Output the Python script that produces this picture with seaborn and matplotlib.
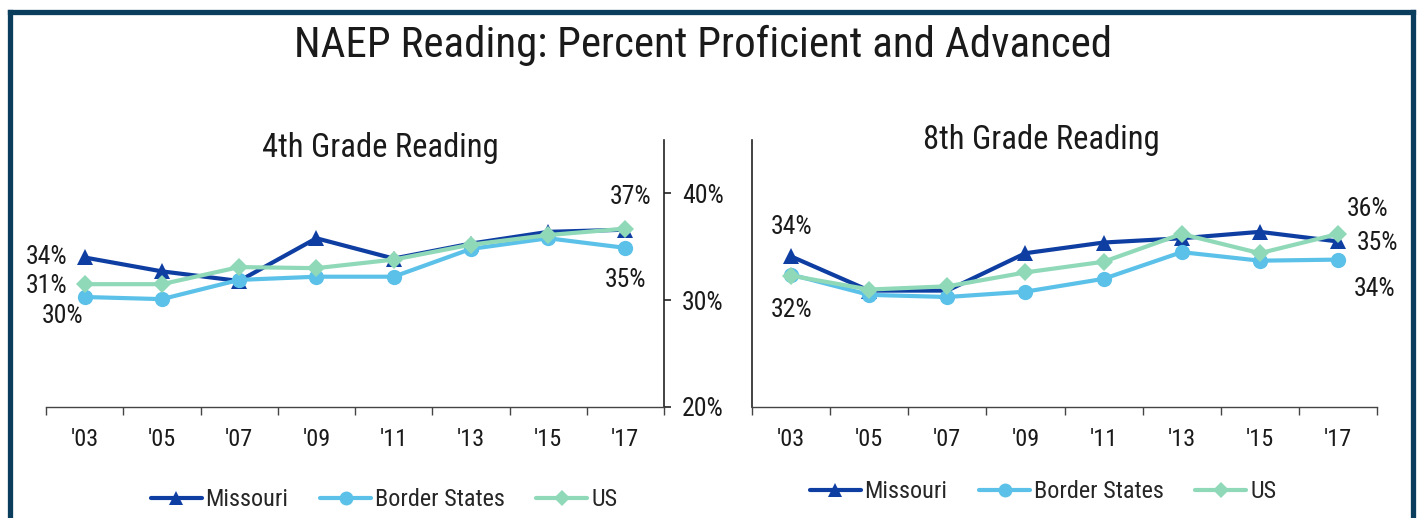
import numpy as np
import pandas as pd
import matplotlib
matplotlib.use("Agg")
import matplotlib.pyplot as plt
import seaborn as sns
from matplotlib import font_manager
from matplotlib.lines import Line2D
from matplotlib.ticker import FixedLocator

sns.set_theme(style="white")
installed = {f.name for f in font_manager.fontManager.ttflist}
narrow = [n for n in ["Roboto Condensed", "Archivo Narrow", "PT Sans Narrow"] if n in installed]
plt.rcParams["font.family"] = narrow[:1] + ["DejaVu Sans"]

# -------------------------------
# data
# -------------------------------
years = ["'03", "'05", "'07", "'09", "'11", "'13", "'15", "'17"]
series = ["Missouri", "Border States", "US"]

g4_missouri = [34.0, 32.7, 31.8, 35.8, 33.9, 35.3, 36.4, 36.6]
g4_border = [30.3, 30.1, 31.9, 32.2, 32.2, 34.8, 35.8, 34.9]
g4_us = [31.5, 31.5, 33.1, 33.0, 33.8, 35.2, 36.1, 36.7]

g8_missouri = [34.1, 30.9, 30.9, 34.4, 35.4, 35.8, 36.4, 35.5]
g8_border = [32.4, 30.5, 30.3, 30.8, 32.0, 34.5, 33.7, 33.8]
g8_us = [32.3, 31.0, 31.3, 32.6, 33.6, 36.2, 34.4, 36.2]

y_ticks = [20, 30, 40]

colors = {"Missouri": "#0f3ea3", "Border States": "#5cc1e8", "US": "#8fd9b9"}
markers = {"Missouri": "^", "Border States": "o", "US": "D"}
msizes = {"Missouri": 11, "Border States": 11, "US": 9}
frame_col = "#0b3d5c"
txt_col = "#1a1a1a"
LW = 3.0


def long_df(m, b, u):
    rows = []
    for name, vals in zip(series, [m, b, u]):
        for yr, v in zip(years, vals):
            rows.append({"year": yr, "value": v, "series": name})
    return pd.DataFrame(rows)


df4 = long_df(g4_missouri, g4_border, g4_us)
df8 = long_df(g8_missouri, g8_border, g8_us)

W, H = 1417, 518
fig = plt.figure(figsize=(W / 100, H / 100), dpi=100)
ax4 = fig.add_axes([46 / W, 1 - 407 / H, 618 / W, 267 / H])
ax8 = fig.add_axes([752 / W, 1 - 407 / H, 625 / W, 267 / H])


def draw(ax, df):
    sns.lineplot(data=df, x="year", y="value", hue="series", style="series",
                 palette=colors, markers=markers, dashes=False, lw=LW,
                 markeredgewidth=0, sort=False, ax=ax, legend=False)
    for ln in ax.get_lines():
        for s in series:
            if ln.get_marker() == markers[s]:
                ln.set_markersize(msizes[s])
    ax.set_xlim(-0.5, 7.5)
    ax.set_ylim(20, 45)
    ax.set_xlabel("")
    ax.set_ylabel("")
    ax.set_xticks(range(len(years)))
    ax.set_xticklabels(years)
    ax.xaxis.set_minor_locator(FixedLocator(np.arange(-0.5, 8, 1)))
    ax.tick_params(axis="x", which="major", length=0, pad=15, labelsize=17.5, labelcolor=txt_col)
    ax.tick_params(axis="x", which="minor", bottom=True, length=6, width=1, color="#444444", direction="out")
    for s in ["top", "left", "right", "bottom"]:
        ax.spines[s].set_visible(False)
    ax.spines["bottom"].set_visible(True)
    ax.spines["bottom"].set_color("#444444")
    ax.spines["bottom"].set_linewidth(1)


draw(ax4, df4)
draw(ax8, df8)

# left chart: axis on the right side, labelled
ax4.yaxis.tick_right()
ax4.spines["right"].set_visible(True)
ax4.spines["right"].set_color("#222222")
ax4.spines["right"].set_linewidth(1.2)
ax4.set_yticks(y_ticks)
ax4.set_yticklabels([f"{t}%" for t in y_ticks])
ax4.tick_params(axis="y", which="major", right=True, length=5, width=1.2, color="#222222",
                direction="out", pad=8, labelsize=18.5, labelcolor=txt_col)

# right chart: bare left spine
ax8.spines["left"].set_visible(True)
ax8.spines["left"].set_color("#222222")
ax8.spines["left"].set_linewidth(1.2)
ax8.set_yticks(y_ticks)
ax8.tick_params(axis="y", left=False, right=False, labelleft=False, labelright=False)

# value labels
lab_kw = dict(textcoords="offset pixels", ha="center", va="center", fontsize=18.5, color=txt_col)
ax4.annotate("34%", (0, g4_missouri[0]), xytext=(-38, 0), **lab_kw)
ax4.annotate("31%", (0, g4_us[0]), xytext=(-38, -2), **lab_kw)
ax4.annotate("30%", (0, g4_border[0]), xytext=(-22, -19), **lab_kw)
ax4.annotate("37%", (7, g4_missouri[7]), xytext=(5, 33), **lab_kw)
ax4.annotate("35%", (7, g4_border[7]), xytext=(0, -32), **lab_kw)

ax8.annotate("34%", (0, g8_missouri[0]), xytext=(0, 29), **lab_kw)
ax8.annotate("32%", (0, g8_border[0]), xytext=(1, -35), **lab_kw)
ax8.annotate("36%", (7, g8_us[7]), xytext=(30, 25), **lab_kw)
ax8.annotate("35%", (7, g8_missouri[7]), xytext=(40, -2), **lab_kw)
ax8.annotate("34%", (7, g8_border[7]), xytext=(37, -29), **lab_kw)

# titles
fig.text(703 / W, 1 - 45 / H, "NAEP Reading: Percent Proficient and Advanced",
         ha="center", va="center", fontsize=31, color=txt_col)
fig.text(380 / W, 1 - 148 / H, "4th Grade Reading", ha="center", va="center", fontsize=23.5, color=txt_col)
fig.text(1041 / W, 1 - 140 / H, "8th Grade Reading", ha="center", va="center", fontsize=23.5, color=txt_col)

# legends
handles = [Line2D([], [], color=colors[s], marker=markers[s], lw=LW, markersize=msizes[s] - 1,
                  markeredgewidth=0) for s in series]
leg_kw = dict(ncol=3, frameon=False, fontsize=17.5, handlelength=2.1, columnspacing=1.3,
              handletextpad=0.15, loc="center")
fig.legend(handles, series, bbox_to_anchor=(384 / W, 1 - 500 / H), **leg_kw)
fig.legend(handles, series, bbox_to_anchor=(1043 / W, 1 - 492 / H), **leg_kw)

# dark frame round the slide
fk = dict(color=frame_col, lw=3.8, transform=fig.transFigure, solid_capstyle="projecting")
fig.add_artist(Line2D([9.5 / W, 9.5 / W], [0, 1 - 11.5 / H], **fk))
fig.add_artist(Line2D([1412.5 / W, 1412.5 / W], [0, 1 - 11.5 / H], **fk))
fig.add_artist(Line2D([9.5 / W, 1412.5 / W], [1 - 11.5 / H, 1 - 11.5 / H], **fk))

fig.savefig("out.png", dpi=100)
